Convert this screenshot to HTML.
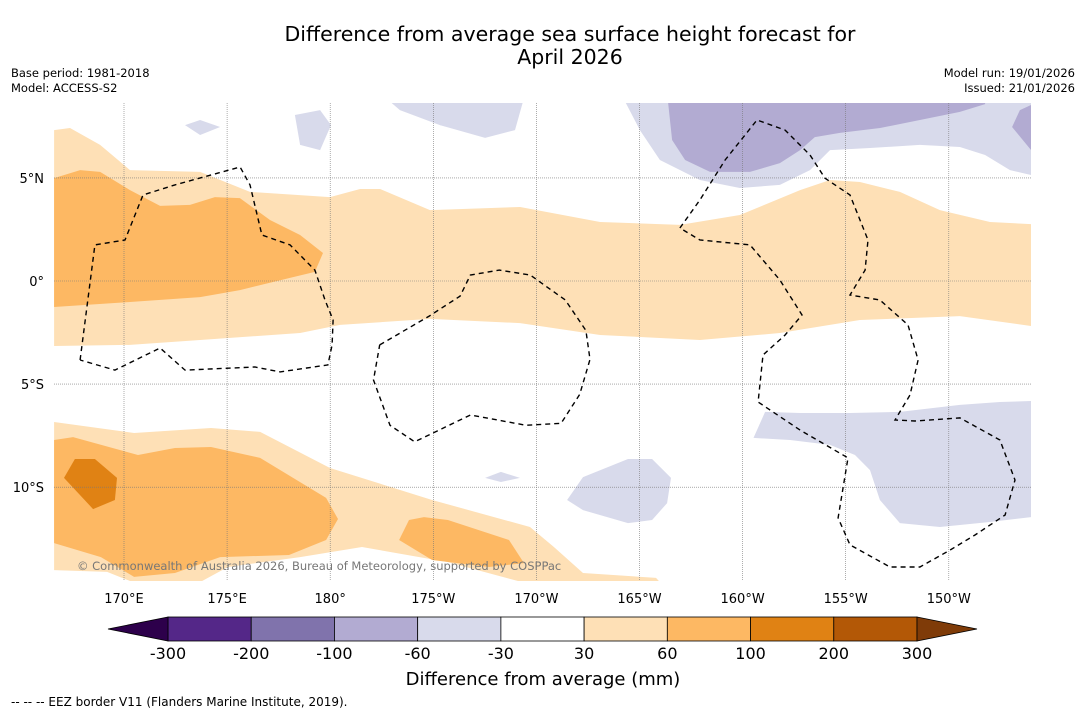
<!DOCTYPE html>
<html><head><meta charset="utf-8"><style>
body{margin:0;background:#fff;font-family:"DejaVu Sans","Liberation Sans",sans-serif}
svg text{font-family:"DejaVu Sans","Liberation Sans",sans-serif}
</style></head><body>
<svg id="c" width="1085" height="713" xmlns="http://www.w3.org/2000/svg">
<rect width="1085" height="713" fill="#fff"/>
<text x="570" y="41" font-size="20.5" text-anchor="middle">Difference from average sea surface height forecast for</text>
<text x="570" y="64" font-size="20.5" text-anchor="middle">April 2026</text>
<text x="11" y="77" font-size="11.5">Base period: 1981-2018</text>
<text x="11" y="92" font-size="11.5">Model: ACCESS-S2</text>
<text x="1075" y="77" font-size="11.5" text-anchor="end">Model run: 19/01/2026</text>
<text x="1075" y="92" font-size="11.5" text-anchor="end">Issued: 21/01/2026</text>
<g id="map"></g>
<g id="cb"></g>
<text x="543" y="685" font-size="18" text-anchor="middle">Difference from average (mm)</text>
<text x="11" y="706" font-size="12">--  --  -- EEZ border V11 (Flanders Marine Institute, 2019).</text>
</svg>
<script>
// axis ticks
const lonTicks=[170,175,180,185,190,195,200,205,210];
const lonLabels=["170°E","175°E","180°","175°W","170°W","165°W","160°W","155°W","150°W"];
const latTicks=[5,0,-5,-10];
const latLabels=["5°N","0°","5°S","10°S"];
// colorbar
const cbLevels=["-300","-200","-100","-60","-30","30","60","100","200","300"];
const cbColors=["#542788","#8073ac","#b2abd2","#d8daeb","#ffffff","#fee0b6","#fdb863","#e08214","#b35806"];
const cbUnder="#2d004b", cbOver="#7f3b08";
// contour regions (lon deg east, lat deg)
const regLight=[[166.61,7.32],[167.38,7.42],[168.84,6.6],[170.29,5.38],[173.69,5.29],[176.11,4.32],[179.99,4.07],[181.45,4.46],[182.42,4.46],[184.84,3.44],[189.21,3.59],[193.09,2.86],[196.97,2.72],[199.87,3.2],[202.79,4.41],[204.24,4.9],[205.69,4.8],[207.63,4.32],[209.57,3.44],[212.0,2.86],[213.99,2.76],[213.99,-2.18],[210.54,-1.7],[205.69,-1.89],[201.81,-2.52],[197.93,-2.86],[193.09,-2.62],[189.21,-2.04],[184.84,-1.84],[180.48,-2.13],[178.54,-2.52],[173.69,-2.86],[170.29,-3.1],[166.61,-3.15]];
const regMid=[[166.61,4.99],[167.87,5.38],[168.84,5.29],[170.29,4.41],[171.75,3.64],[173.2,3.69],[174.41,4.07],[175.62,4.02],[177.08,2.96],[178.54,2.23],[179.65,1.36],[179.26,0.44],[178.05,0.15],[175.62,-0.44],[173.69,-0.78],[170.29,-1.02],[166.61,-1.26]];
const regSLight=[[166.61,-6.84],[170.49,-7.37],[174.22,-7.13],[176.6,-7.32],[179.99,-9.07],[184.94,-10.62],[189.69,-11.93],[190.85,-12.9],[192.26,-14.16],[195.8,-14.4],[195.99,-14.6],[189.3,-14.6],[185.71,-13.63],[181.54,-12.9],[178.54,-13.39],[175.04,-13.87],[173.69,-14.6],[170.29,-14.55],[169.18,-14.11],[166.61,-14.02]];
const regSMid=[[166.61,-7.71],[167.53,-7.57],[170.68,-8.44],[172.47,-8.1],[174.22,-8.05],[176.6,-8.58],[179.8,-10.52],[180.38,-11.54],[179.8,-12.56],[178.0,-13.29],[174.66,-13.39],[172.47,-14.16],[170.49,-14.35],[168.88,-13.39],[166.61,-12.71]];
const regSDark=[[167.62,-8.63],[168.59,-8.63],[169.66,-9.55],[169.56,-10.62],[168.5,-11.06],[167.09,-9.55]];
const regSPatch=[[183.82,-11.59],[184.55,-11.45],[185.71,-11.59],[188.67,-12.56],[189.4,-13.68],[187.7,-13.87],[184.94,-13.53],[183.34,-12.56]];
const regP1=[[182.9,8.7],[189.35,8.7],[188.96,7.32],[187.51,6.94],[185.32,7.56],[183.38,8.29]];
const regP2=[[194.3,8.7],[195.02,7.32],[195.99,5.87],[197.93,4.9],[199.87,4.51],[201.81,4.66],[203.27,5.38],[204.24,6.35],[206.18,6.45],[208.6,6.6],[210.54,6.5],[211.76,6.11],[212.97,5.38],[213.99,5.14],[213.99,8.7]];
const regP3=[[196.38,8.7],[196.58,6.84],[197.21,5.87],[198.42,5.29],[200.36,5.29],[201.81,5.72],[202.79,6.35],[203.5,6.98],[204.72,7.18],[206.67,7.42],[208.6,7.81],[210.54,8.2],[211.76,8.58],[211.76,8.7]];
const regP4=[[213.99,8.54],[213.45,8.29],[213.07,7.47],[213.99,6.35]];
const regP5=[[172.96,7.56],[173.69,7.81],[174.66,7.47],[173.69,7.08]];
const regP6=[[178.29,8.05],[179.51,8.29],[180.04,7.56],[179.51,6.35],[178.54,6.6]];
const regP7=[[201.09,-6.35],[202.79,-6.4],[205.21,-6.4],[207.63,-6.35],[210.54,-6.01],[212.48,-5.87],[213.99,-5.82],[213.99,-11.45],[211.99,-11.69],[209.57,-11.93],[207.63,-11.74],[206.66,-10.62],[206.18,-9.17],[205.45,-8.44],[204.24,-7.95],[202.3,-7.71],[200.53,-7.61]];
const regP8=[[191.49,-10.62],[192.26,-9.51],[194.44,-8.63],[195.61,-8.63],[196.53,-9.55],[196.34,-10.77],[195.61,-11.59],[194.44,-11.74],[192.26,-11.11]];
const regP9=[[187.51,-9.55],[188.28,-9.26],[189.2,-9.55],[188.28,-9.75]];
// EEZ borders
const eez1=[[167.87,-3.83],[168.59,1.75],[170.05,1.99],[170.92,4.17],[172.47,4.66],[175.63,5.53],[176.11,4.66],[176.69,2.23],[178.05,1.75],[179.26,0.53],[179.75,-0.92],[180.14,-1.89],[180.09,-3.1],[179.89,-4.07],[177.57,-4.41],[176.35,-4.17],[172.96,-4.32],[171.75,-3.25],[169.56,-4.32],[167.87,-3.83]];
const eez2=[[182.4,-3.1],[184.8,-1.7],[186.3,-0.73],[186.8,0.29],[188.2,0.53],[189.7,0.29],[191.4,-0.92],[192.4,-2.4],[192.6,-3.8],[192.1,-5.5],[191.2,-6.9],[189.5,-7.0],[186.8,-6.5],[184.1,-7.8],[182.9,-7.0],[182.1,-4.8],[182.4,-3.1]];
const eez3=[[196.96,2.57],[197.93,3.93],[199.15,5.87],[200.7,7.81],[202.06,7.32],[203.27,6.11],[203.99,4.99],[205.21,4.17],[206.08,1.99],[205.94,0.53],[205.21,-0.68],[206.66,-0.92],[208.02,-2.13],[208.51,-3.83],[208.12,-5.53],[207.39,-6.74],[208.36,-6.79],[210.54,-6.64],[212.48,-7.71],[213.21,-9.65],[212.73,-11.35],[211.27,-12.32],[210.06,-13.05],[208.6,-13.87],[207.15,-13.87],[205.21,-12.8],[204.63,-11.49],[205.11,-8.58],[202.79,-7.23],[200.75,-5.87],[200.99,-3.59],[202.06,-2.62],[202.88,-1.65],[201.81,0.05],[200.36,1.75],[197.93,1.99],[196.96,2.57]];

const NS="http://www.w3.org/2000/svg";
const X0=54,X1=1031,Y0=103,Y1=581;
const sx=lon=>124+(lon-170)*20.62;
const sy=lat=>281-lat*20.62;
const map=document.getElementById('map');
function mk(tag,at,parent){const e=document.createElementNS(NS,tag);for(const k in at)e.setAttribute(k,at[k]);(parent||map).appendChild(e);return e;}
const defs=mk('defs',{});const cp=mk('clipPath',{id:'clip'},defs);mk('rect',{x:X0,y:Y0,width:X1-X0,height:Y1-Y0},cp);
const g=mk('g',{'clip-path':'url(#clip)'});
const pts=a=>a.map(p=>sx(p[0]).toFixed(1)+','+sy(p[1]).toFixed(1)).join(' ');
function region(a,fill,name){const p=mk('polygon',{points:pts(a),fill:fill},g);

}
region(regLight,cbColors[5],'anomaly-30-60-north');
region(regMid,cbColors[6],'anomaly-60-100-north');
region(regSLight,cbColors[5],'anomaly-30-60-south');
region(regSMid,cbColors[6],'anomaly-60-100-south');
region(regSDark,cbColors[7],'anomaly-100-200-south');
region(regSPatch,cbColors[6],'anomaly-60-100-patch');
[regP1,regP2,regP5,regP6,regP7,regP8,regP9].forEach((r,i)=>region(r,cbColors[3],'anomaly-neg30-60-'+i));
[regP3,regP4].forEach((r,i)=>region(r,cbColors[2],'anomaly-neg60-100-'+i));
// grid
lonTicks.forEach((l,i)=>{const x=sx(l);const ln=mk('line',{x1:x,x2:x,y1:Y0,y2:Y1,stroke:'#777','stroke-width':0.6,'stroke-dasharray':'1,1'},g);


const t=mk('text',{x:x,y:603,'font-size':13,'text-anchor':'middle'});t.textContent=lonLabels[i];

});
latTicks.forEach((l,i)=>{const y=sy(l);const ln=mk('line',{x1:X0,x2:X1,y1:y,y2:y,stroke:'#777','stroke-width':0.6,'stroke-dasharray':'1,1'},g);


const t=mk('text',{x:44,y:y+5,'font-size':13,'text-anchor':'end'});t.textContent=latLabels[i];

});
[eez1,eez2,eez3].forEach((r,i)=>{const p=mk('polyline',{points:pts(r),fill:'none',stroke:'#000','stroke-width':1.4,'stroke-dasharray':'5,4'},g);

});
const cr=mk('text',{x:77,y:570,'font-size':11.5,fill:'#777'});cr.textContent='© Commonwealth of Australia 2026, Bureau of Meteorology, supported by COSPPac';


// colorbar
const cb=document.getElementById('cb');
const bx0=168,bx1=917,by=617,bh=24,bw=(bx1-bx0)/cbColors.length;
cbColors.forEach((c,i)=>{const r=mk('rect',{x:bx0+i*bw,y:by,width:bw,height:bh,fill:c,stroke:'#000','stroke-width':0.8},cb);

});
const tu=mk('polygon',{points:`${bx0},${by} 108,${by+bh/2} ${bx0},${by+bh}`,fill:cbUnder,stroke:'#000','stroke-width':0.8},cb);


const to=mk('polygon',{points:`${bx1},${by} 977,${by+bh/2} ${bx1},${by+bh}`,fill:cbOver,stroke:'#000','stroke-width':0.8},cb);


cbLevels.forEach((v,i)=>{const t=mk('text',{x:bx0+i*bw,y:659,'font-size':16,'text-anchor':'middle'},cb);t.textContent=v;

});
</script>
</body></html>
